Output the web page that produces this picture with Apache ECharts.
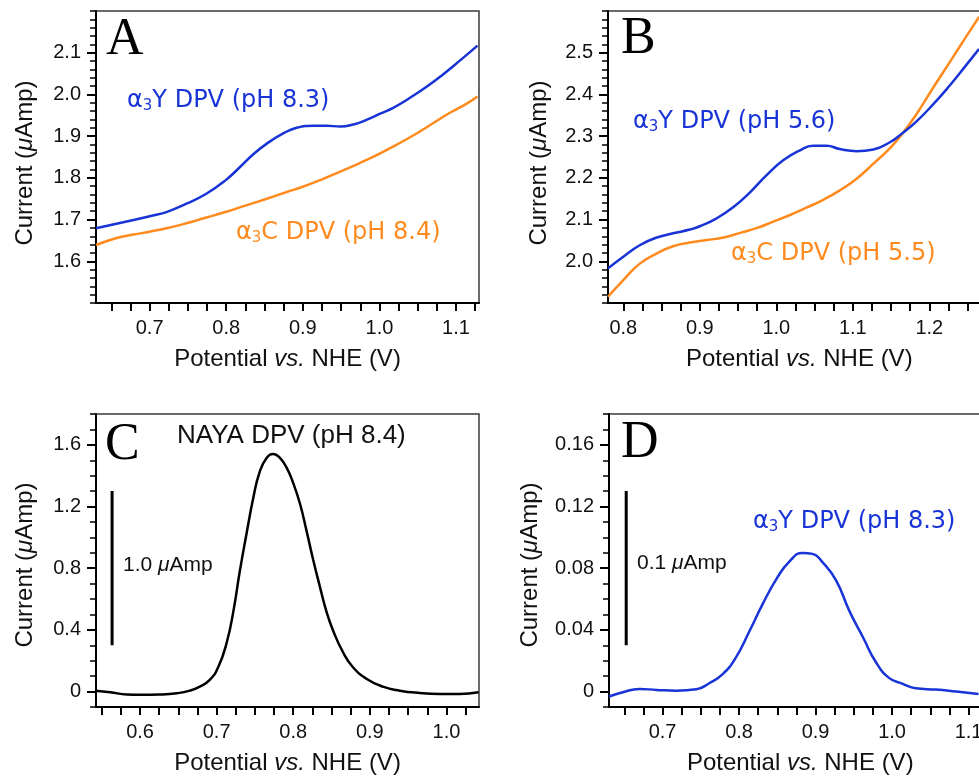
<!DOCTYPE html>
<html><head><meta charset="utf-8">
<script src="https://cdn.jsdelivr.net/npm/echarts@6/dist/echarts.min.js"></script>
<style>html,body{margin:0;padding:0;background:#fff}#c{width:979px;height:776px}</style>
</head><body><div id="c"></div>
<script>
// ---------- Data ----------
// Panel A: alpha3Y (pH 8.3) and alpha3C (pH 8.4)
const aBlueX = [0.630,0.679,0.700,0.722,0.748,0.774,0.799,0.818,0.835,0.853,0.875,0.892,0.914,0.931,0.949,0.966,0.983,1.001,1.018,1.040,1.062,1.083,1.105,1.128];
const aBlueY = [1.679,1.699,1.708,1.718,1.738,1.762,1.794,1.826,1.856,1.882,1.907,1.920,1.925,1.925,1.923,1.928,1.939,1.954,1.968,1.992,2.019,2.048,2.081,2.117];
const aOrangeX = [0.630,0.657,0.679,0.700,0.722,0.748,0.774,0.799,0.826,0.853,0.879,0.899,0.922,0.949,0.975,0.999,1.023,1.049,1.071,1.092,1.114,1.128];
const aOrangeY = [1.639,1.656,1.664,1.671,1.679,1.691,1.705,1.718,1.734,1.750,1.766,1.778,1.794,1.815,1.836,1.857,1.880,1.907,1.932,1.956,1.978,1.995];
// Panel B: alpha3Y (pH 5.6) and alpha3C (pH 5.5)
const bBlueX = [0.780,0.800,0.822,0.844,0.865,0.887,0.900,0.922,0.944,0.966,0.987,1.009,1.031,1.048,1.066,1.083,1.105,1.127,1.149,1.164,1.183,1.205,1.227,1.249,1.265];
const bBlueY = [1.983,2.011,2.039,2.057,2.067,2.076,2.084,2.103,2.130,2.166,2.206,2.242,2.266,2.277,2.277,2.269,2.264,2.268,2.286,2.306,2.335,2.376,2.422,2.472,2.509];
const bOrangeX = [0.780,0.800,0.822,0.844,0.865,0.887,0.909,0.931,0.953,0.975,0.996,1.018,1.040,1.062,1.083,1.105,1.127,1.149,1.164,1.183,1.205,1.227,1.249,1.265];
const bOrangeY = [1.915,1.955,1.995,2.019,2.036,2.045,2.051,2.057,2.068,2.080,2.095,2.111,2.129,2.148,2.170,2.198,2.234,2.272,2.304,2.352,2.416,2.478,2.541,2.586];
// Panel C: NAYA DPV (pH 8.4)
const cX = [0.542,0.561,0.583,0.600,0.626,0.648,0.665,0.678,0.691,0.702,0.713,0.722,0.730,0.739,0.748,0.756,0.765,0.774,0.782,0.791,0.800,0.809,0.817,0.826,0.835,0.843,0.852,0.865,0.878,0.896,0.917,0.939,0.965,0.991,1.017,1.042];
const cY = [0.006,-0.004,-0.019,-0.021,-0.019,-0.011,0.006,0.032,0.076,0.158,0.315,0.525,0.774,1.023,1.260,1.422,1.513,1.541,1.519,1.455,1.352,1.215,1.050,0.855,0.676,0.525,0.396,0.255,0.158,0.082,0.032,0.006,-0.009,-0.015,-0.015,-0.004];
// Panel D: alpha3Y DPV (pH 8.3), baseline corrected
const dX = [0.630,0.648,0.670,0.692,0.718,0.744,0.761,0.779,0.796,0.814,0.831,0.849,0.866,0.883,0.896,0.909,0.927,0.944,0.962,0.979,0.996,1.014,1.031,1.057,1.084,1.113];
const dY = [-0.0032,-0.0004,0.0017,0.0011,0.0006,0.0015,0.0054,0.0115,0.0222,0.0396,0.0569,0.0731,0.0845,0.0899,0.0893,0.0839,0.0720,0.0525,0.0352,0.0190,0.0089,0.0050,0.0021,0.0013,0.0000,-0.0015];
// Scale bars (1.0 uAmp in C, 0.1 uAmp in D)
const cBarX = [0.5635,0.5635], cBarY = [0.3,1.3];
const dBarX = [0.6525,0.6525], dBarY = [0.03,0.13];

// ---------- Axis ranges and ticks ----------
const xRanges = [[0.63,1.13],[0.78,1.28],[0.5425,1.0425],[0.63,1.13]];
const yRanges = [[1.5,2.2],[1.9,2.6],[-0.1,1.8],[-0.01,0.18]];
const xLabelsA = [0.7,0.8,0.9,1.0,1.1];
const xLabelsB = [0.8,0.9,1.0,1.1,1.2];
const xLabelsC = [0.6,0.7,0.8,0.9,1.0];
const xLabelsD = [0.7,0.8,0.9,1.0,1.1];
const yLabelsA = [1.6,1.7,1.8,1.9,2.0,2.1];
const yLabelsB = [2.0,2.1,2.2,2.3,2.4,2.5];
const yLabelsC = [0,0.4,0.8,1.2,1.6];
const yLabelsD = [0,0.04,0.08,0.12,0.16];
const xMinorStep = 0.025;
const yMinorSteps = [0.02,0.02,0.1,0.01];
const yDecimals = [1,1,1,2];

function stepTicks(min, max, step){
  const out = [];
  const k0 = Math.ceil(min/step - 1e-9), k1 = Math.floor(max/step + 1e-9);
  for (let k = k0; k <= k1; k++) out.push(+(k*step).toFixed(6));
  return out;
}

const BLUE = '#1934d6', ORANGE = '#ff8a1e', INK = '#111';
const TICKF = 'Liberation Sans';
const grids = [
  {left:96, top:11, width:383, height:292},
  {left:608, top:11, width:382.5, height:292},
  {left:96, top:414, width:383, height:293},
  {left:609, top:414, width:382.5, height:293}
].map(g => Object.assign(g, {show:true, borderColor:'#3a3a3a', borderWidth:1.5, backgroundColor:'transparent', containLabel:false, outerBoundsMode:'none'}));

const xLabelSets = [xLabelsA,xLabelsB,xLabelsC,xLabelsD];
const yLabelSets = [yLabelsA,yLabelsB,yLabelsC,yLabelsD];

const xAxes = [], yAxes = [];
for (let g = 0; g < 4; g++){
  xAxes.push({
    gridIndex:g, type:'value', min:xRanges[g][0], max:xRanges[g][1],
    axisLine:{show:true, onZero:false, lineStyle:{color:'#000', width:2}},
    axisTick:{show:true, inside:false, length:8, lineStyle:{color:'#000', width:2}, customValues: stepTicks(xRanges[g][0], xRanges[g][1], xMinorStep)},
    axisLabel:{show:true, margin:15, customValues:xLabelSets[g], formatter:v=>v.toFixed(1), color:INK, fontSize:20, fontFamily:TICKF},
    splitLine:{show:false},
    name:'Potential {i|vs.} NHE (V)', nameLocation:'middle', nameGap:44,
    nameTextStyle:{fontSize:24, color:INK, fontFamily:TICKF, rich:{i:{fontStyle:'italic', fontSize:24, fontFamily:TICKF, color:INK}}}
  });
  const dec = yDecimals[g];
  yAxes.push({
    gridIndex:g, type:'value', position:'left', min:yRanges[g][0], max:yRanges[g][1],
    axisLine:{show:true, onZero:false, lineStyle:{color:'#000', width:2}},
    axisTick:{show:true, inside:false, length:9, lineStyle:{color:'#000', width:2}, customValues:yLabelSets[g]},
    axisLabel:{show:true, margin:15, customValues:yLabelSets[g], formatter:v=> v===0 ? '0' : v.toFixed(dec), color:INK, fontSize:20, fontFamily:TICKF},
    splitLine:{show:false}
  });
  yAxes.push({
    gridIndex:g, type:'value', position:'left', min:yRanges[g][0], max:yRanges[g][1],
    axisLine:{show:false, onZero:false},
    axisTick:{show:true, inside:false, length:6, lineStyle:{color:'#000', width:1.5}, customValues: stepTicks(yRanges[g][0], yRanges[g][1], yMinorSteps[g])},
    axisLabel:{show:false}, splitLine:{show:false}
  });
}

const zip = (xs, ys) => xs.map((x,i)=>[x, ys[i]]);
function line(g, xs, ys, color, w, smooth){
  return {type:'line', xAxisIndex:g, yAxisIndex:2*g, data:zip(xs,ys), showSymbol:false, smooth:smooth,
    lineStyle:{color:color, width:w}, itemStyle:{color:color}, silent:true, animation:false, clip:true};
}
const series = [
  line(0, aOrangeX, aOrangeY, ORANGE, 2.5, 0.5),
  line(0, aBlueX, aBlueY, BLUE, 2.5, 0.5),
  line(1, bOrangeX, bOrangeY, ORANGE, 2.5, 0.5),
  line(1, bBlueX, bBlueY, BLUE, 2.5, 0.5),
  line(2, cX, cY, '#000', 2.5, 0.5),
  line(2, cBarX, cBarY, '#000', 3, false),
  line(3, dX, dY, BLUE, 2.5, 0.5),
  line(3, dBarX, dBarY, '#000', 3, false)
];

const richSub = (color) => ({
  m:{fontSize:24, fontFamily:'DejaVu Sans', color:color, lineHeight:26, verticalAlign:'middle'},
  s:{fontSize:15, fontFamily:'DejaVu Sans', color:color, lineHeight:16, padding:[14,0,0,0], verticalAlign:'bottom'}
});
function txt(x, y, text, font, size, color, extra){
  return {type:'text', x:x, y:y, silent:true, style:Object.assign({text:text, font: size+'px "'+font+'"', fill:color, align:'left', verticalAlign:'middle'}, extra||{})};
}
function alphaLabel(x, y, letter, rest, color){
  return {type:'text', x:x, y:y, silent:true, style:{text:'{m|α}{s|3}{m|'+letter+' DPV ('+rest+')}', rich:richSub(color), align:'left', verticalAlign:'middle', fill:color, font:'24px "DejaVu Sans"'}};
}
function yName(x, y){
  return {type:'text', x:x, y:y, rotation:Math.PI/2, silent:true, style:{text:'Current ({i|μ}Amp)', font:'24px "Liberation Sans"', fill:INK, align:'center', verticalAlign:'middle', rich:{i:{fontStyle:'italic', fontSize:24, fontFamily:'Liberation Sans', fill:INK}}}};
}
const graphics = [
  yName(25, 163), yName(539, 163), yName(25, 565), yName(530, 565),
  txt(106, 40, 'A', 'Liberation Serif', 52, '#000'),
  txt(621, 39, 'B', 'Liberation Serif', 52, '#000'),
  txt(105, 445, 'C', 'Liberation Serif', 52, '#000'),
  txt(621, 443, 'D', 'Liberation Serif', 52, '#000'),
  alphaLabel(127, 101, 'Y', 'pH 8.3', BLUE),
  alphaLabel(236, 233, 'C', 'pH 8.4', ORANGE),
  alphaLabel(633, 122, 'Y', 'pH 5.6', BLUE),
  alphaLabel(731, 254, 'C', 'pH 5.5', ORANGE),
  alphaLabel(753, 522, 'Y', 'pH 8.3', BLUE),
  txt(177, 436, 'NAYA DPV (pH 8.4)', 'Liberation Sans', 26, INK),
  {type:'text', x:123, y:565, silent:true, style:{text:'1.0 {i|μ}Amp', font:'21px "Liberation Sans"', fill:INK, align:'left', verticalAlign:'middle', rich:{i:{fontStyle:'italic', fontSize:21, fontFamily:'Liberation Sans', fill:INK}}}},
  {type:'text', x:637, y:563, silent:true, style:{text:'0.1 {i|μ}Amp', font:'21px "Liberation Sans"', fill:INK, align:'left', verticalAlign:'middle', rich:{i:{fontStyle:'italic', fontSize:21, fontFamily:'Liberation Sans', fill:INK}}}}
];

const chart = echarts.init(document.getElementById('c'), null, {renderer:'canvas'});
chart.setOption({
  animation:false, backgroundColor:'#fff',
  grid:grids, xAxis:xAxes, yAxis:yAxes, series:series, graphic:graphics
});
</script></body></html>
